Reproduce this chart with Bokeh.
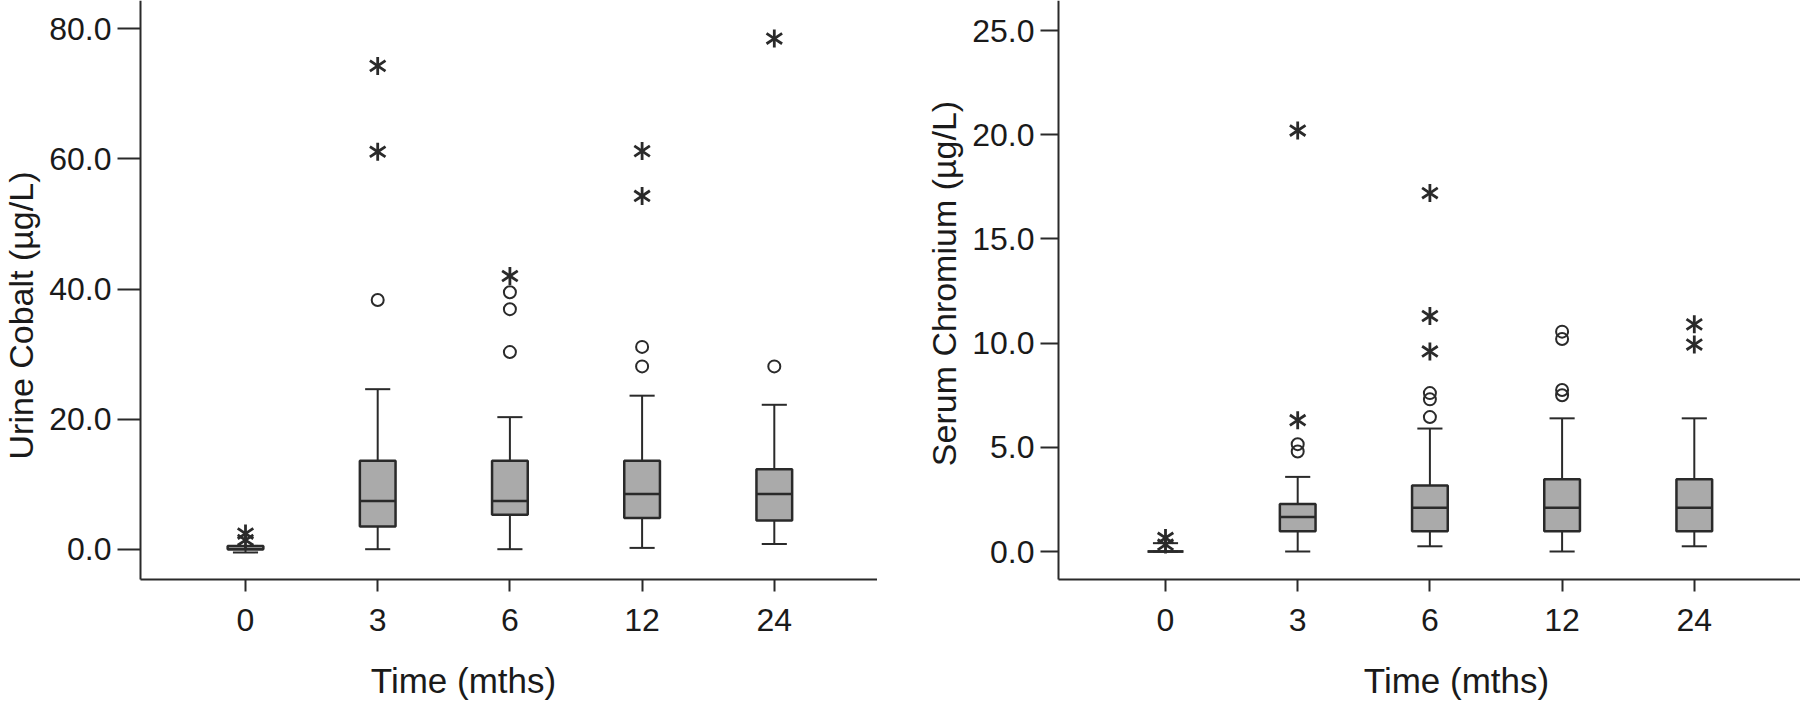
from bokeh.plotting import figure
from bokeh.layouts import row
from bokeh.models import ColumnDataSource, FixedTicker, Range1d, NumeralTickFormatter, Label
from bokeh.embed import file_html
from bokeh.resources import INLINE
import math

# ---------------- data ----------------
times = ["0", "3", "6", "12", "24"]

# Urine cobalt (µg/L)
co_low = [-0.5, 0.0, 0.0, 0.2, 0.8]
co_q1 = [0.0, 3.5, 5.3, 4.8, 4.4]
co_med = [0.0, 7.4, 7.4, 8.5, 8.5]
co_q3 = [0.5, 13.6, 13.6, 13.6, 12.3]
co_high = [0.5, 24.6, 20.3, 23.6, 22.2]
co_circ_time = ["3", "6", "6", "6", "12", "12", "24"]
co_circ_val = [38.3, 39.5, 36.9, 30.3, 31.1, 28.1, 28.1]
co_star_time = ["0", "0", "3", "3", "6", "12", "12", "24"]
co_star_val = [2.4, 1.4, 74.3, 61.1, 42.0, 61.2, 54.3, 78.5]
co_yticks = [0, 20, 40, 60, 80]
co_ylabel = "Urine Cobalt (µg/L)"

# Serum chromium (µg/L)
cr_low = [0.0, 0.0, 0.25, 0.0, 0.25]
cr_q1 = [0.0, 0.97, 0.97, 0.97, 0.97]
cr_med = [0.0, 1.65, 2.1, 2.1, 2.1]
cr_q3 = [0.0, 2.28, 3.17, 3.47, 3.47]
cr_high = [0.4, 3.58, 5.9, 6.39, 6.39]
cr_circ_time = ["3", "3", "6", "6", "6", "12", "12", "12", "12"]
cr_circ_val = [5.15, 4.8, 7.6, 7.3, 6.45, 10.55, 10.2, 7.75, 7.5]
cr_star_time = ["0", "0", "3", "3", "6", "6", "6", "24", "24"]
cr_star_val = [0.65, 0.33, 20.2, 6.3, 17.2, 11.3, 9.6, 10.9, 9.93]
cr_yticks = [0, 5, 10, 15, 20, 25]
cr_ylabel = "Serum Chromium (µg/L)"

x_title = "Time (mths)"

# ---------------- style / layout ----------------
FONT = "Liberation Sans"
TXT = "#1a1a1a"
AX = "#2a2a2a"
BOX_FILL = "#aaaaaa"
BOX_W = 0.27
CAP_W = 0.19
H = 702
AXIS_Y_PX = 579          # pixel row of the x axis line
CAT_STEP_PX = 132.2      # pixels between categories


def panel(width, cat0_px, yaxis_px, zero_px, top_px, px_per_unit,
          low, q1, med, q3, high, ctime, cval, stime, sval,
          yticks, ylabel, tick_len, ylab_base_px, ylab_center_px, xtitle_center_px):
    # pixel -> data helpers (layout only)
    def dx(px):
        return (px - cat0_px) / CAT_STEP_PX

    def dy(px):
        return (zero_px - px) / px_per_unit

    p = figure(width=width, height=H, x_range=Range1d(dx(0), dx(width)),
               y_range=Range1d(dy(H), dy(0)),
               output_backend="svg", toolbar_location=None,
               min_border_left=0, min_border_right=0,
               min_border_top=0, min_border_bottom=0)
    p.outline_line_color = None
    p.xgrid.visible = False
    p.ygrid.visible = False
    p.background_fill_color = "white"
    p.border_fill_color = "white"

    idx = {t: i for i, t in enumerate(times)}
    xs = [idx[t] for t in times]
    src = ColumnDataSource(dict(
        x=xs, low=low, q1=q1, med=med, q3=q3, high=high,
        bl=[x - BOX_W / 2 for x in xs], br=[x + BOX_W / 2 for x in xs],
        cl=[x - CAP_W / 2 for x in xs], cr=[x + CAP_W / 2 for x in xs],
    ))
    # whiskers
    p.segment(x0="x", x1="x", y0="q3", y1="high", source=src, line_color=AX, line_width=2)
    p.segment(x0="x", x1="x", y0="q1", y1="low", source=src, line_color=AX, line_width=2)
    p.segment(x0="cl", x1="cr", y0="high", y1="high", source=src, line_color=AX, line_width=2)
    p.segment(x0="cl", x1="cr", y0="low", y1="low", source=src, line_color=AX, line_width=2)
    # boxes
    p.vbar(x="x", width=BOX_W, top="q3", bottom="q1", source=src,
           fill_color=BOX_FILL, line_color=AX, line_width=2.5)
    p.segment(x0="bl", x1="br", y0="med", y1="med", source=src, line_color=AX, line_width=2.5)

    # outliers
    csrc = ColumnDataSource(dict(x=[idx[t] for t in ctime], y=cval))
    p.scatter(x="x", y="y", source=csrc, marker="circle", size=12,
              fill_color=None, line_color=AX, line_width=2)
    ssrc = ColumnDataSource(dict(x=[idx[t] for t in stime], y=sval))
    p.scatter(x="x", y="y", source=ssrc, marker="y", size=18, angle=0,
              line_color=AX, line_width=2.8)
    p.scatter(x="x", y="y", source=ssrc, marker="y", size=18, angle=math.pi,
              line_color=AX, line_width=2.8)

    # x axis (drawn at a fixed location inside the canvas)
    xa = p.xaxis[0]
    xa.fixed_location = dy(AXIS_Y_PX)
    xa.bounds = (dx(yaxis_px), dx(width))
    xa.ticker = FixedTicker(ticks=xs)
    xa.major_label_overrides = {i: t for i, t in enumerate(times)}
    xa.minor_tick_line_color = None
    xa.major_tick_in = 0
    xa.major_tick_out = 12
    xa.major_tick_line_width = 2
    xa.major_tick_line_color = AX
    xa.axis_line_width = 2
    xa.axis_line_color = AX
    xa.major_label_text_font = FONT
    xa.major_label_text_font_size = "32px"
    xa.major_label_text_color = TXT
    xa.major_label_standoff = 17

    # y axis
    ya = p.yaxis[0]
    ya.fixed_location = dx(yaxis_px)
    ya.bounds = (dy(AXIS_Y_PX), dy(top_px))
    ya.ticker = FixedTicker(ticks=yticks)
    ya.formatter = NumeralTickFormatter(format="0.0")
    ya.minor_tick_line_color = None
    ya.major_tick_in = 0
    ya.major_tick_out = tick_len
    ya.major_tick_line_width = 2
    ya.major_tick_line_color = AX
    ya.axis_line_width = 2
    ya.axis_line_color = AX
    ya.major_label_text_font = FONT
    ya.major_label_text_font_size = "32px"
    ya.major_label_text_color = TXT
    ya.major_label_standoff = 6

    # axis titles
    p.add_layout(Label(x=dx(ylab_base_px), y=dy(ylab_center_px), text=ylabel, angle=math.pi / 2,
                       text_align="center", text_baseline="alphabetic",
                       text_font=FONT, text_font_size="34px", text_color=TXT))
    p.add_layout(Label(x=dx(xtitle_center_px), y=dy(680), text=x_title,
                       text_align="center", text_baseline="alphabetic",
                       text_font=FONT, text_font_size="35px", text_color=TXT))
    return p


p1 = panel(877, 245, 140, 548.7, 0, 6.505,
           co_low, co_q1, co_med, co_q3, co_high,
           co_circ_time, co_circ_val, co_star_time, co_star_val,
           co_yticks, co_ylabel, 23, 20, 315, 463)
p2 = panel(923, 288, 181, 551.0, 0, 20.84,
           cr_low, cr_q1, cr_med, cr_q3, cr_high,
           cr_circ_time, cr_circ_val, cr_star_time, cr_star_val,
           cr_yticks, cr_ylabel, 18, 66, 283, 579)

layout = row(p1, p2)
open("out.html", "w").write(file_html(layout, INLINE))
